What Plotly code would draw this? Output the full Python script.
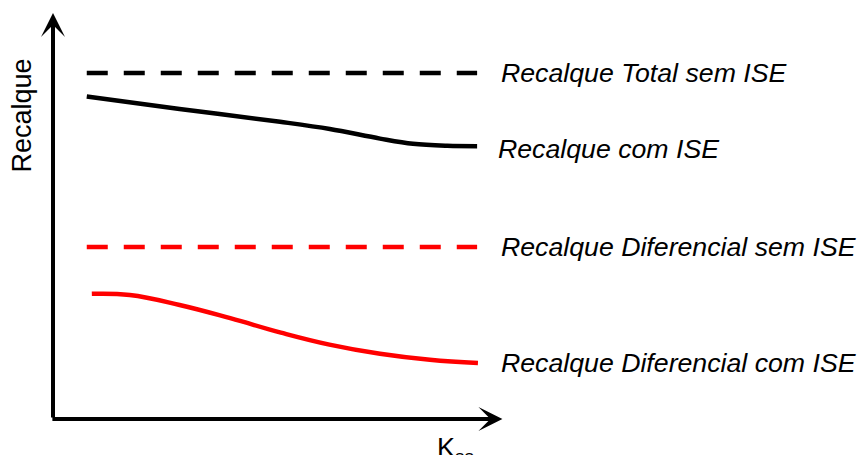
import plotly.graph_objects as go

# Data (abstract units: K_ss on x, Recalque on y)
k_total_sem = [0.8, 10.05]
rec_total_sem = [8.65, 8.65]

k_com = [0.8, 3.0, 5.38, 6.56, 7.75, 8.53, 9.34, 10.05]
rec_com = [8.06, 7.75, 7.43, 7.25, 7.01, 6.88, 6.83, 6.82]

k_dif_sem = [0.8, 10.05]
rec_dif_sem = [4.3, 4.3]

k_dif_com = [0.92, 1.82, 3.0, 4.2, 5.4, 6.55, 7.75, 8.93, 10.07]
rec_dif_com = [3.13, 3.1, 2.85, 2.52, 2.16, 1.86, 1.63, 1.48, 1.40]

labels = ["Recalque Total sem ISE", "Recalque com ISE",
          "Recalque Diferencial sem ISE", "Recalque Diferencial com ISE"]
label_y = [8.65, 6.75, 4.3, 1.4]
label_x = [10.58, 10.5, 10.58, 10.58]

x_label = "K<sub>ss</sub>"
y_label = "Recalque"

FONT = "Liberation Sans, Arial, sans-serif"

fig = go.Figure()
fig.add_trace(go.Scatter(x=k_total_sem, y=rec_total_sem, mode="lines",
                         line=dict(color="black", width=4.5, dash="21px,16px")))
fig.add_trace(go.Scatter(x=k_com, y=rec_com, mode="lines",
                         line=dict(color="black", width=4.5, shape="spline", smoothing=1)))
fig.add_trace(go.Scatter(x=k_dif_sem, y=rec_dif_sem, mode="lines",
                         line=dict(color="#ff0000", width=4.5, dash="21px,16px")))
fig.add_trace(go.Scatter(x=k_dif_com, y=rec_dif_com, mode="lines",
                         line=dict(color="#ff0000", width=4.5, shape="spline", smoothing=1.2)))

annotations = []
# axes arrows
annotations.append(dict(x=0, y=10.15, ax=0, ay=0, xref="x", yref="y", axref="x", ayref="y",
                        text="", showarrow=True, arrowhead=3, arrowsize=1, arrowwidth=4,
                        arrowcolor="black", standoff=0, startstandoff=0))
annotations.append(dict(x=10.65, y=0, ax=-0.05, ay=0, xref="x", yref="y", axref="x", ayref="y",
                        text="", showarrow=True, arrowhead=3, arrowsize=1, arrowwidth=4,
                        arrowcolor="black", standoff=0, startstandoff=0))
for t, yv, xv in zip(labels, label_y, label_x):
    annotations.append(dict(x=xv, y=yv, xref="x", yref="y", text=t, showarrow=False,
                            xanchor="left", yanchor="middle",
                            font=dict(family=FONT, size=26.7, color="black", style="italic")))
annotations.append(dict(x=-0.74, y=7.58, xref="x", yref="y", text=y_label, showarrow=False,
                        textangle=-90, xanchor="center", yanchor="middle",
                        font=dict(family=FONT, size=27, color="black")))
annotations.append(dict(x=9.05, y=-0.3, xref="x", yref="y", text=x_label, showarrow=False,
                        xanchor="left", yanchor="top",
                        font=dict(family=FONT, size=27, color="black")))

fig.update_layout(
    width=859, height=455,
    margin=dict(l=0, r=0, t=0, b=0),
    paper_bgcolor="white", plot_bgcolor="white",
    showlegend=False,
    xaxis=dict(range=[-53 / 42.2, (859 - 53) / 42.2], visible=False, fixedrange=True),
    yaxis=dict(range=[(419 - 455) / 40, 419 / 40], visible=False, fixedrange=True),
    annotations=annotations,
)

fig.write_html("out.html", config={"displayModeBar": False},
               post_script="document.body.style.margin='0px';document.body.style.overflow='hidden';")
